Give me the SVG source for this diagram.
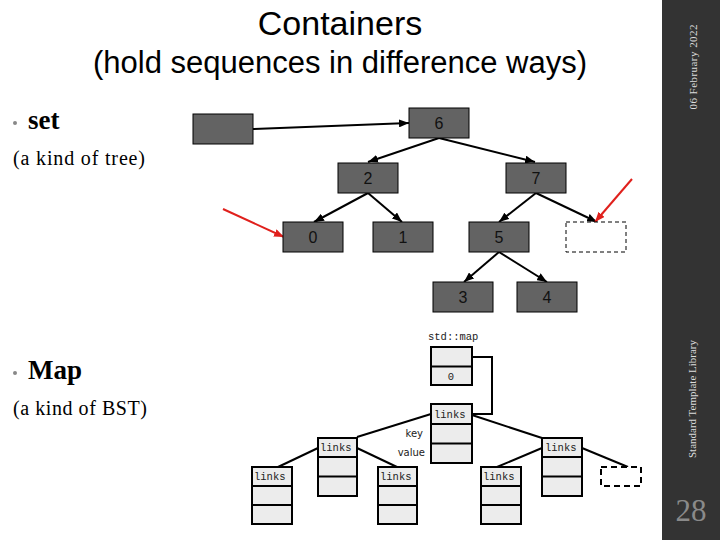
<svg xmlns="http://www.w3.org/2000/svg" width="720" height="540" viewBox="0 0 720 540">
<style>
.title{font-family:"Liberation Sans",Arial,sans-serif;fill:#000;text-anchor:middle}
.serif{font-family:"Liberation Serif","Times New Roman",serif;fill:#000}
.snode{fill:#636363;stroke:#000;stroke-width:1}
.slabel{font-family:"Liberation Sans",Arial,sans-serif;font-size:16px;fill:#111;text-anchor:middle}
.mbox{fill:#ececec;stroke:#000;stroke-width:2}
.mono{font-family:"Liberation Mono","DejaVu Sans Mono",monospace;font-size:10.5px;fill:#222}
.side{font-family:"Liberation Serif","DejaVu Serif",serif;font-size:11px;fill:#ddd;text-anchor:middle}
.blk{stroke:#000;stroke-width:2;fill:none}
.red{stroke:#e0201c;stroke-width:2;fill:none}
.mline{stroke:#000;stroke-width:2;fill:none}
</style>
<defs>
<marker id="ah" markerUnits="userSpaceOnUse" markerWidth="10" markerHeight="8" refX="10" refY="4" orient="auto"><path d="M0,0 L10,4 L0,8 z" fill="#000"/></marker>
<marker id="ahr" markerUnits="userSpaceOnUse" markerWidth="10" markerHeight="8" refX="10" refY="4" orient="auto"><path d="M0,0 L10,4 L0,8 z" fill="#e0201c"/></marker>
</defs>
<rect x="0" y="0" width="720" height="540" fill="#fff"/>
<rect x="662" y="0" width="58" height="540" fill="#333"/>
<text class="side" transform="translate(697,67) rotate(-90)" textLength="85">06 February 2022</text>
<text class="side" transform="translate(696,399) rotate(-90)" textLength="118">Standard Template Library</text>
<text x="691" y="521" font-family="Liberation Serif,serif" font-size="31" fill="#8a8a8a" text-anchor="middle">28</text>

<text class="title" x="340" y="35" font-size="34">Containers</text>
<text class="title" x="340" y="73" font-size="31">(hold sequences in difference ways)</text>

<circle cx="15" cy="123" r="2" fill="#888"/>
<text class="serif" x="28" y="129" font-size="27" font-weight="bold">set</text>
<text class="serif" x="13" y="165" font-size="20" textLength="132">(a kind of tree)</text>
<circle cx="15" cy="373" r="2" fill="#888"/>
<text class="serif" x="28" y="379" font-size="27" font-weight="bold">Map</text>
<text class="serif" x="13" y="415" font-size="20" textLength="134">(a kind of BST)</text>

<g id="connectors">
<line class="blk" x1="253" y1="129" x2="409" y2="123" marker-end="url(#ah)"/>
<line class="blk" x1="439" y1="138" x2="368" y2="162" marker-end="url(#ah)"/>
<line class="blk" x1="439" y1="138" x2="535" y2="162" marker-end="url(#ah)"/>
<line class="blk" x1="368" y1="193" x2="314" y2="222" marker-end="url(#ah)"/>
<line class="blk" x1="368" y1="193" x2="402" y2="222" marker-end="url(#ah)"/>
<line class="blk" x1="536" y1="193" x2="499" y2="222" marker-end="url(#ah)"/>
<line class="blk" x1="536" y1="193" x2="597" y2="222" marker-end="url(#ah)"/>
<line class="blk" x1="499" y1="252" x2="464" y2="282" marker-end="url(#ah)"/>
<line class="blk" x1="499" y1="252" x2="547" y2="282" marker-end="url(#ah)"/>
<line class="red" x1="223" y1="209" x2="284" y2="237" marker-end="url(#ahr)"/>
<line class="red" x1="632" y1="179" x2="595" y2="222" marker-end="url(#ahr)"/>
<path class="mline" d="M472,357 H492 V414 H472"/>
<line class="mline" x1="431" y1="414" x2="357" y2="437"/>
<line class="mline" x1="472" y1="415" x2="542" y2="438"/>
<line class="mline" x1="318" y1="448" x2="278" y2="467"/>
<line class="mline" x1="357" y1="448" x2="397" y2="467"/>
<line class="mline" x1="542" y1="448" x2="497" y2="467"/>
<line class="mline" x1="582" y1="448" x2="628" y2="467"/>
</g>

<g id="set-head"><rect class="snode" x="193" y="114" width="60" height="30"/></g>
<g id="set-6"><rect class="snode" x="409" y="108" width="60" height="30"/><text class="slabel" x="439" y="129">6</text></g>
<g id="set-2"><rect class="snode" x="338" y="163" width="60" height="30"/><text class="slabel" x="368" y="184">2</text></g>
<g id="set-7"><rect class="snode" x="506" y="163" width="60" height="30"/><text class="slabel" x="536" y="184">7</text></g>
<g id="set-0"><rect class="snode" x="283" y="222" width="60" height="30"/><text class="slabel" x="313" y="243">0</text></g>
<g id="set-1"><rect class="snode" x="373" y="222" width="60" height="30"/><text class="slabel" x="403" y="243">1</text></g>
<g id="set-5"><rect class="snode" x="469" y="222" width="60" height="30"/><text class="slabel" x="499" y="243">5</text></g>
<g id="set-empty"><rect x="566" y="222" width="60" height="30" fill="#fff" stroke="#000" stroke-width="1" stroke-dasharray="4,3"/></g>
<g id="set-3"><rect class="snode" x="433" y="282" width="60" height="30"/><text class="slabel" x="463" y="303">3</text></g>
<g id="set-4"><rect class="snode" x="517" y="282" width="60" height="30"/><text class="slabel" x="547" y="303">4</text></g>

<g id="map-head">
<text class="mono" x="428" y="340" font-size="10px">std::map</text>
<rect class="mbox" x="431" y="347" width="41" height="38"/>
<line class="mline" x1="431" y1="366.5" x2="472" y2="366.5"/>
<text class="mono" x="451" y="380" text-anchor="middle" fill="#666">0</text>
</g>
<g id="map-root">
<rect class="mbox" x="431" y="404" width="41" height="59"/>
<line class="mline" x1="431" y1="424" x2="472" y2="424"/>
<line class="mline" x1="431" y1="443.5" x2="472" y2="443.5"/>
<text class="mono" x="434" y="418">links</text>
<text x="423" y="437" font-family="DejaVu Sans,sans-serif" font-size="10" fill="#222" text-anchor="end">key</text>
<text x="425" y="456" font-family="DejaVu Sans,sans-serif" font-size="10" fill="#222" text-anchor="end">value</text>
</g>
<g id="map-l">
<rect class="mbox" x="318" y="438" width="39" height="58"/>
<line class="mline" x1="318" y1="457" x2="357" y2="457"/>
<line class="mline" x1="318" y1="476.5" x2="357" y2="476.5"/>
<text class="mono" x="320" y="451">links</text>
</g>
<g id="map-r">
<rect class="mbox" x="542" y="438" width="40" height="58"/>
<line class="mline" x1="542" y1="457" x2="582" y2="457"/>
<line class="mline" x1="542" y1="476.5" x2="582" y2="476.5"/>
<text class="mono" x="545" y="451">links</text>
</g>
<g id="map-ll">
<rect class="mbox" x="252" y="467" width="40" height="57"/>
<line class="mline" x1="252" y1="486" x2="292" y2="486"/>
<line class="mline" x1="252" y1="505" x2="292" y2="505"/>
<text class="mono" x="254" y="480">links</text>
</g>
<g id="map-lr">
<rect class="mbox" x="378" y="467" width="39" height="57"/>
<line class="mline" x1="378" y1="486" x2="417" y2="486"/>
<line class="mline" x1="378" y1="505" x2="417" y2="505"/>
<text class="mono" x="380" y="480">links</text>
</g>
<g id="map-rl">
<rect class="mbox" x="481" y="467" width="40" height="57"/>
<line class="mline" x1="481" y1="486" x2="521" y2="486"/>
<line class="mline" x1="481" y1="505" x2="521" y2="505"/>
<text class="mono" x="483" y="480">links</text>
</g>
<g id="map-empty">
<rect x="601" y="467" width="40" height="19" fill="#fff" stroke="#000" stroke-width="2" stroke-dasharray="6,4"/>
</g>
</svg>
